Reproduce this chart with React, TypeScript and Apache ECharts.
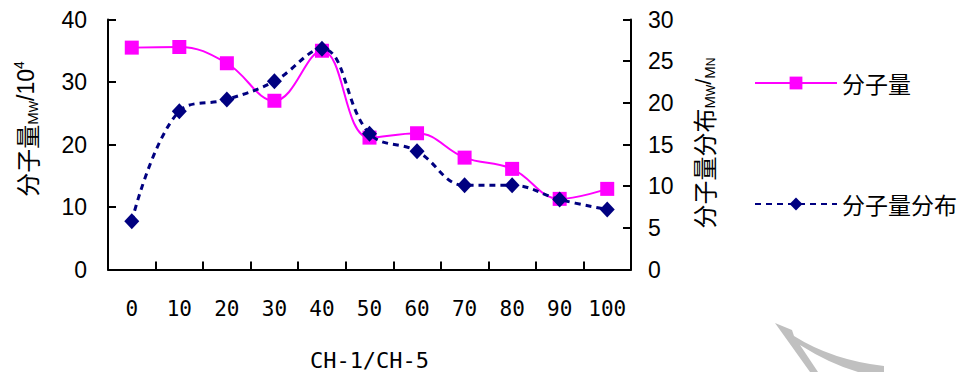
import React, { useEffect, useRef } from "react";
import * as echarts from "echarts";

const categories = ["0", "10", "20", "30", "40", "50", "60", "70", "80", "90", "100"];
const molWeight = [35.5, 35.6, 33.0, 27.0, 35.0, 21.1, 21.8, 17.9, 16.1, 11.3, 12.9];
const molDist = [5.8, 19.0, 20.4, 22.6, 26.5, 16.3, 14.2, 10.1, 10.1, 8.4, 7.2];
const seriesNames = ["分子量", "分子量分布"];
const leftAxis = { min: 0, max: 40, interval: 10 };
const rightAxis = { min: 0, max: 30, interval: 5 };
const xAxisTitle = "CH-1/CH-5";

const CJK = '"Noto Sans CJK SC", "Noto Sans", sans-serif';
const SANS = '"Liberation Sans", Arial, sans-serif';
const MONO = '"DejaVu Sans Mono", "Liberation Mono", monospace';

echarts.graphic.registerShape(
  "swoosh",
  echarts.graphic.extendPath(
    "M775,323 L792,330 L794,336 Q832,360 884,366 L884,372 L858,372 Q830,364 800,345 L818,372 L810,372 Z",
    {}
  )
);

export default function App() {
  const ref = useRef<HTMLDivElement>(null);
  useEffect(() => {
    if (!ref.current) return;
    const chart = echarts.init(ref.current, null, { renderer: "svg" });
    chart.setOption({
      animation: false,
      backgroundColor: "#ffffff",
      grid: {
        left: 108,
        right: 346,
        top: 19.5,
        bottom: 102.5,
        containLabel: false,
        outerBoundsMode: "none",
      },
      legend: {
        orient: "vertical",
        left: 754,
        top: 70,
        padding: 0,
        itemWidth: 82,
        itemHeight: 16,
        itemGap: 95,
        textStyle: { fontFamily: CJK, fontSize: 23, color: "#000", lineHeight: 26 },
        data: seriesNames,
      },
      xAxis: {
        type: "category",
        data: categories,
        boundaryGap: true,
        axisLine: { show: true, lineStyle: { color: "#000", width: 2 } },
        axisTick: { show: true, inside: true, length: 8, lineStyle: { color: "#000", width: 2 } },
        axisLabel: { interval: 0, margin: 29, fontFamily: MONO, fontSize: 21, color: "#000" },
        name: xAxisTitle,
        nameLocation: "middle",
        nameGap: 81,
        nameTextStyle: { fontFamily: MONO, fontSize: 22, color: "#000", lineHeight: 20 },
      },
      yAxis: [
        {
          type: "value",
          position: "left",
          min: leftAxis.min,
          max: leftAxis.max,
          interval: leftAxis.interval,
          splitLine: { show: false },
          axisLine: { show: true, lineStyle: { color: "#000", width: 2 } },
          axisTick: { show: true, inside: true, length: 8, lineStyle: { color: "#000", width: 2 } },
          axisLabel: { margin: 21, fontFamily: SANS, fontSize: 23, color: "#000" },
        },
        {
          type: "value",
          position: "right",
          min: rightAxis.min,
          max: rightAxis.max,
          interval: rightAxis.interval,
          splitLine: { show: false },
          axisLine: { show: true, lineStyle: { color: "#000", width: 2 } },
          axisTick: { show: true, inside: true, length: 8, lineStyle: { color: "#000", width: 2 } },
          axisLabel: { margin: 17, fontFamily: SANS, fontSize: 23, color: "#000" },
        },
      ],
      series: [
        {
          name: seriesNames[0],
          type: "line",
          yAxisIndex: 0,
          data: molWeight,
          smooth: 0.4,
          symbol: "rect",
          symbolSize: 14,
          itemStyle: { color: "#FF00FF" },
          lineStyle: { color: "#FF00FF", width: 2 },
          z: 2,
        },
        {
          name: seriesNames[1],
          type: "line",
          yAxisIndex: 1,
          data: molDist,
          smooth: 0.4,
          symbol: "diamond",
          symbolSize: [15, 16],
          itemStyle: { color: "#000080" },
          lineStyle: { color: "#000080", width: 3, type: [6, 5] },
          z: 3,
        },
      ],
      graphic: [
        {
          type: "text",
          x: 26,
          y: 129,
          rotation: Math.PI / 2,
          style: {
            text: "{c|分子量}{m|M}{s|W}{n|/10}{p|4}",
            align: "center",
            verticalAlign: "middle",
            fill: "#000",
            rich: {
              c: { fontFamily: CJK, fontSize: 24, fill: "#000", lineHeight: 28 },
              m: { fontFamily: SANS, fontSize: 15, fill: "#000", verticalAlign: "bottom", lineHeight: 22 },
              s: { fontFamily: SANS, fontSize: 12, fill: "#000", verticalAlign: "bottom", lineHeight: 20 },
              n: { fontFamily: SANS, fontSize: 23, fill: "#000", lineHeight: 28 },
              p: { fontFamily: SANS, fontSize: 14, fill: "#000", verticalAlign: "top", lineHeight: 14 },
            },
          },
        },
        {
          type: "text",
          x: 703,
          y: 143,
          rotation: Math.PI / 2,
          style: {
            text: "{c|分子量分布}{m|M}{s|W}{n|/}{m|M}{s|N}",
            align: "center",
            verticalAlign: "middle",
            fill: "#000",
            rich: {
              c: { fontFamily: CJK, fontSize: 24, fill: "#000", lineHeight: 28 },
              m: { fontFamily: SANS, fontSize: 15, fill: "#000", verticalAlign: "bottom", lineHeight: 22 },
              s: { fontFamily: SANS, fontSize: 12, fill: "#000", verticalAlign: "bottom", lineHeight: 20 },
              n: { fontFamily: SANS, fontSize: 22, fill: "#000", lineHeight: 28 },
            },
          },
        },
        {
          type: "swoosh",
          x: 0,
          y: 0,
          silent: true,
          style: { fill: "#C0C0C0" },
        },
      ],
    });
    return () => chart.dispose();
  }, []);
  return (
    <div
      ref={ref}
      style={{ position: "fixed", left: 0, top: 0, width: 977, height: 372, background: "#fff" }}
    />
  );
}
